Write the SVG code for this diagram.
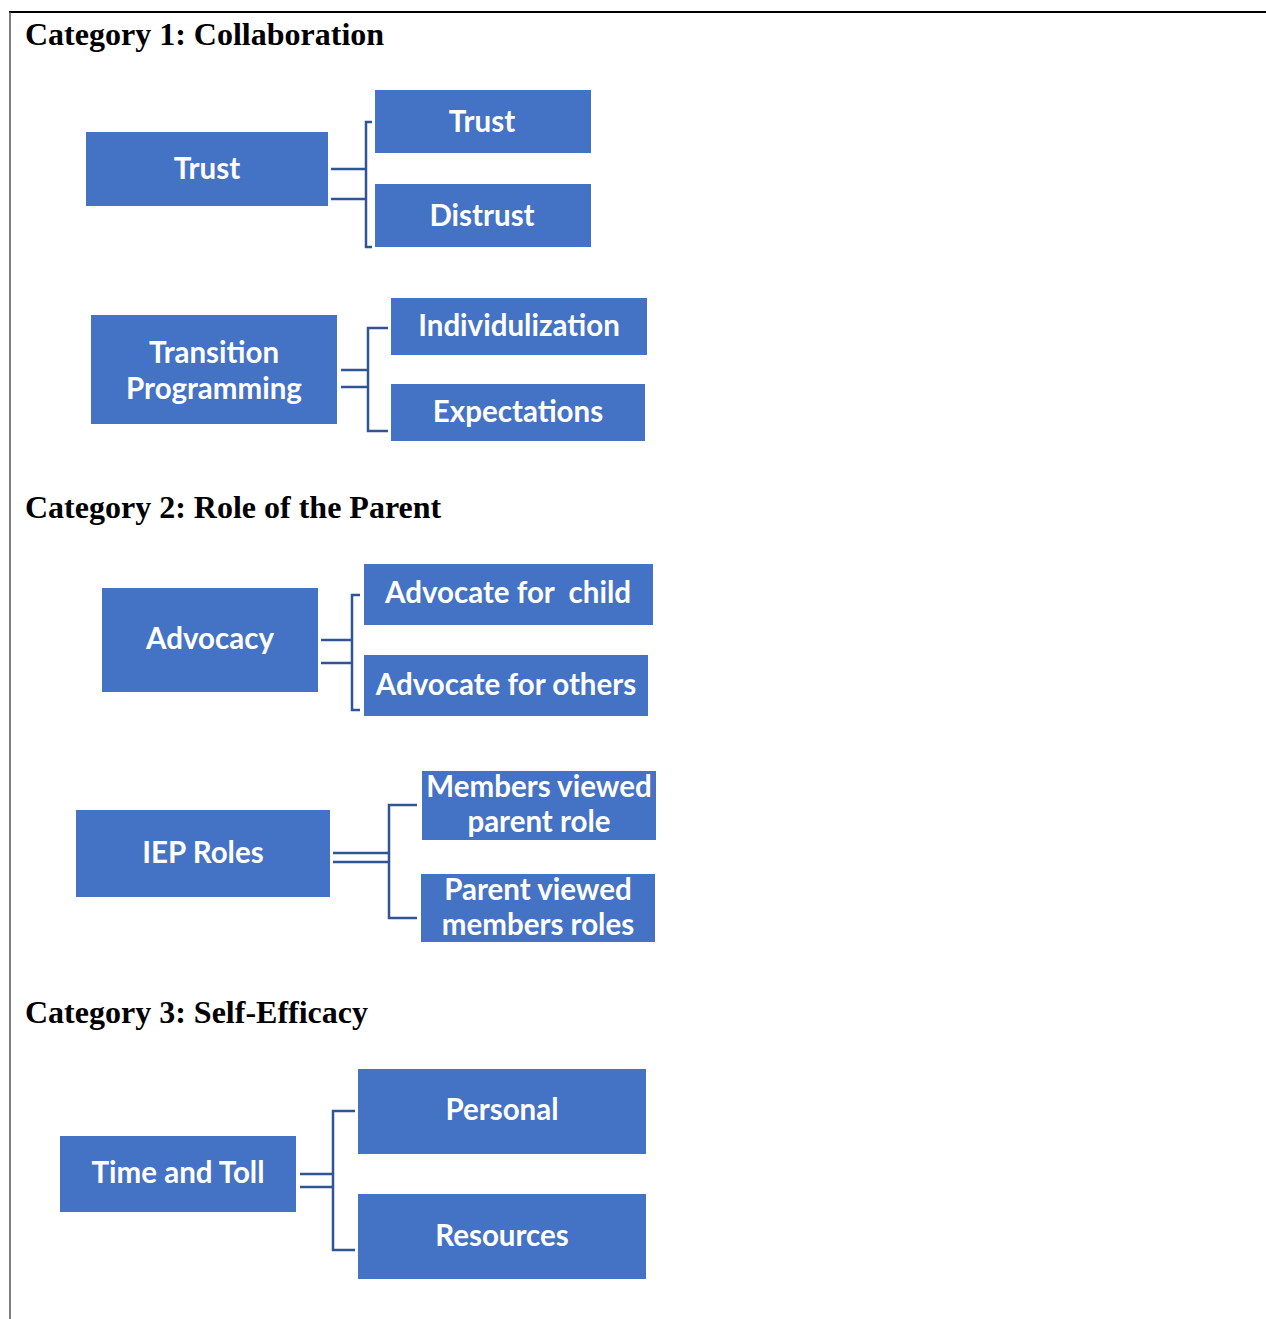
<svg xmlns="http://www.w3.org/2000/svg" width="1266" height="1319" viewBox="0 0 1266 1319">
<style>
.box{fill:#4472C4;}
.lbl{font-family:Lato,"Open Sans",sans-serif;font-weight:700;font-size:29.5px;fill:#fff;text-anchor:middle;}
.hdr{font-family:"Liberation Serif",serif;font-weight:700;font-size:32px;fill:#000;}
.con{fill:none;stroke:#2F5597;stroke-width:2.5;}
</style>
<rect width="1266" height="1319" fill="#fff"/>
<line x1="9" y1="12" x2="1266" y2="12" stroke="#000" stroke-width="2"/>
<line x1="10" y1="12" x2="10" y2="1319" stroke="#555" stroke-width="1.5"/>
<text class="hdr" x="25" y="45">Category 1: Collaboration</text>
<text class="hdr" x="25" y="518">Category 2: Role of the Parent</text>
<text class="hdr" x="25" y="1023">Category 3: Self-Efficacy</text>
<g id="connectors">
<path class="con" d="M331 169H366M331 199H366M372 122H366V247H372"/>
<path class="con" d="M341 370H368M341 387H368M388 328H368V431H388"/>
<path class="con" d="M321 640H352M321 663H352M360 595H352V710H360"/>
<path class="con" d="M333 853H389M333 862H389M417 805H389V918H417"/>
<path class="con" d="M300 1174H333M300 1187H333M355 1111H333V1250H355"/>
</g>
<g id="n-trust"><rect class="box" x="86" y="132" width="242" height="74"/><text class="lbl" x="207" y="179">Trust</text></g>
<g id="n-trust2"><rect class="box" x="375" y="90" width="216" height="63"/><text class="lbl" x="482" y="132">Trust</text></g>
<g id="n-distrust"><rect class="box" x="375" y="184" width="216" height="63"/><text class="lbl" x="482" y="226">Distrust</text></g>
<g id="n-transition"><rect class="box" x="91" y="315" width="246" height="109"/><text class="lbl" x="214" y="363">Transition</text><text class="lbl" x="214" y="399">Programming</text></g>
<g id="n-indiv"><rect class="box" x="391" y="298" width="256" height="57"/><text class="lbl" x="519" y="336">Individulization</text></g>
<g id="n-expect"><rect class="box" x="391" y="384" width="254" height="57"/><text class="lbl" x="518" y="422">Expectations</text></g>
<g id="n-advocacy"><rect class="box" x="102" y="588" width="216" height="104"/><text class="lbl" x="210" y="649">Advocacy</text></g>
<g id="n-advchild"><rect class="box" x="364" y="564" width="289" height="61"/><text class="lbl" x="508" y="603" xml:space="preserve">Advocate for  child</text></g>
<g id="n-advothers"><rect class="box" x="364" y="655" width="284" height="61"/><text class="lbl" x="506" y="695">Advocate for others</text></g>
<g id="n-iep"><rect class="box" x="76" y="810" width="254" height="87"/><text class="lbl" x="203" y="863">IEP Roles</text></g>
<g id="n-members"><rect class="box" x="422" y="771" width="234" height="69"/><text class="lbl" x="539" y="797">Members viewed</text><text class="lbl" x="539" y="832">parent role</text></g>
<g id="n-parent"><rect class="box" x="421" y="874" width="234" height="68"/><text class="lbl" x="538" y="900">Parent viewed</text><text class="lbl" x="538" y="935">members roles</text></g>
<g id="n-time"><rect class="box" x="60" y="1136" width="236" height="76"/><text class="lbl" x="178" y="1183">Time and Toll</text></g>
<g id="n-personal"><rect class="box" x="358" y="1069" width="288" height="85"/><text class="lbl" x="502" y="1120">Personal</text></g>
<g id="n-resources"><rect class="box" x="358" y="1194" width="288" height="85"/><text class="lbl" x="502" y="1246">Resources</text></g>
</svg>
